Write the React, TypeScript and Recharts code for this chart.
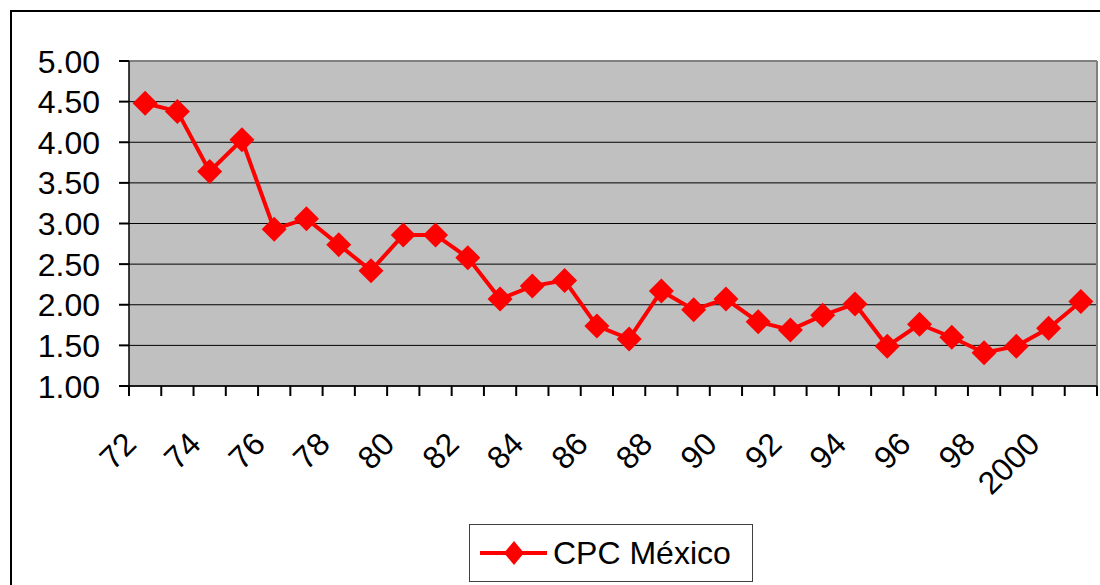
import { CartesianGrid, Legend, Line, LineChart, ReferenceLine, XAxis, YAxis } from 'recharts';

const years = [
  '72', '73', '74', '75', '76', '77', '78', '79', '80', '81',
  '82', '83', '84', '85', '86', '87', '88', '89', '90', '91',
  '92', '93', '94', '95', '96', '97', '98', '99', '2000', '2001',
];

const cpcMexico = [
  4.48, 4.38, 3.64, 4.03, 2.93, 3.06, 2.74, 2.42, 2.86, 2.86,
  2.58, 2.07, 2.23, 2.30, 1.74, 1.58, 2.17, 1.94, 2.07, 1.79,
  1.69, 1.87, 2.01, 1.49, 1.76, 1.60, 1.41, 1.49, 1.71, 2.04,
];

const yTicks = [1, 1.5, 2, 2.5, 3, 3.5, 4, 4.5, 5];

// each year sits in the middle of its slot, like Excel's "between categories"
const data = years.map((year, i) => ({ pos: i + 0.5, year, value: cpcMexico[i] }));
const slotEdges = years.map((_, i) => i).concat(years.length);
const labelTicks = data.filter((_, i) => i % 2 === 0).map((d) => d.pos);

const FONT = '"Liberation Sans", Arial, sans-serif';
const RED = '#FF0000';

function Diamond(props: any) {
  const { cx, cy } = props;
  if (cx == null || cy == null) return null;
  const r = 12.5;
  return (
    <polygon
      key={`d-${props.index}`}
      points={`${cx},${cy - r} ${cx + r},${cy} ${cx},${cy + r} ${cx - r},${cy}`}
      fill={RED}
    />
  );
}

function EdgeTick(props: any) {
  const { x, y } = props;
  return (
    <g className="edge-tick">
      <path d={`M${x},${y - 10}L${x},${y}`} stroke="#000" strokeWidth={2} fill="none" />
    </g>
  );
}

function YearTick(props: any) {
  const { x, y, payload } = props;
  const label = years[Math.floor(payload.value)];
  return (
    <g transform={`translate(${x - 7},${y + 50})`}>
      <text x={0} y={0} textAnchor="end" transform="rotate(-45)" fontSize={32} fill="#000" fontFamily={FONT}>
        {label}
      </text>
    </g>
  );
}

function ValueTick(props: any) {
  const { x, y, payload } = props;
  return (
    <g>
      <path d={`M${x + 19},${y}L${x + 29},${y}`} stroke="#000" strokeWidth={2} fill="none" />
      <text x={x} y={y} dy="0.36em" textAnchor="end" fontSize={32} fill="#000" fontFamily={FONT}>
        {Number(payload.value).toFixed(2)}
      </text>
    </g>
  );
}

function LegendBox() {
  return (
    <div
      style={{
        boxSizing: 'border-box',
        width: 284,
        height: 58,
        border: '1px solid #404040',
        background: '#fff',
        display: 'flex',
        alignItems: 'center',
        fontFamily: FONT,
      }}
    >
      <svg width={80} height={58} style={{ flex: 'none' }}>
        <line x1={10} y1={29} x2={77} y2={29} stroke={RED} strokeWidth={4} />
        <polygon points="44,17 54,29 44,41 34,29" fill={RED} />
      </svg>
      <span style={{ fontSize: 32, color: '#000', marginLeft: 3 }}>CPC México</span>
    </div>
  );
}

export default function App() {
  return (
    <div
      style={{
        position: 'absolute',
        left: 0,
        top: 0,
        width: 1100,
        height: 585,
        overflow: 'hidden',
        background: '#fff',
        fontFamily: FONT,
      }}
    >
      <div
        style={{
          position: 'absolute',
          left: 10,
          top: 10,
          width: 1200,
          height: 700,
          borderTop: '2px solid #000',
          borderLeft: '2px solid #000',
        }}
      />
      <div style={{ position: 'absolute', left: 0, top: 0 }}>
        <LineChart width={1100} height={585} data={data} margin={{ top: 61, right: 3, bottom: 129, left: 0 }}>
          <CartesianGrid
            xAxisId="edges"
            vertical={false}
            horizontal
            fill="#C0C0C0"
            fillOpacity={1}
            stroke="#000"
            strokeWidth={1}
          />
          <XAxis
            xAxisId="edges"
            type="number"
            dataKey="pos"
            domain={[0, years.length]}
            ticks={slotEdges}
            interval={0}
            tick={<EdgeTick />}
            tickLine={false}
            tickSize={10}
            tickMargin={0}
            height={10}
            axisLine={{ stroke: '#000', strokeWidth: 1.5 }}
            allowDataOverflow
          />
          <XAxis
            xAxisId="years"
            type="number"
            dataKey="pos"
            domain={[0, years.length]}
            ticks={labelTicks}
            interval={0}
            tick={<YearTick />}
            tickSize={0}
            tickMargin={0}
            height={60}
            axisLine={false}
            tickLine={false}
            allowDataOverflow
          />
          <YAxis
            type="number"
            domain={[1, 5]}
            ticks={yTicks}
            interval={0}
            width={129}
            tick={<ValueTick />}
            tickLine={false}
            tickSize={10}
            tickMargin={19}
            axisLine={{ stroke: '#000', strokeWidth: 1.5 }}
            allowDataOverflow
          />
          <ReferenceLine xAxisId="edges" y={5} stroke="#808080" strokeWidth={2} />
          <ReferenceLine xAxisId="edges" x={years.length} stroke="#808080" strokeWidth={2} />
          <Line
            xAxisId="edges"
            type="linear"
            dataKey="value"
            name="CPC México"
            stroke={RED}
            strokeWidth={4}
            dot={<Diamond />}
            activeDot={false}
            isAnimationActive={false}
          />
          <Legend
            layout="vertical"
            align="center"
            verticalAlign="middle"
            wrapperStyle={{ left: 469, top: 524, width: 284, height: 58 }}
            content={() => <LegendBox />}
          />
        </LineChart>
      </div>
    </div>
  );
}
